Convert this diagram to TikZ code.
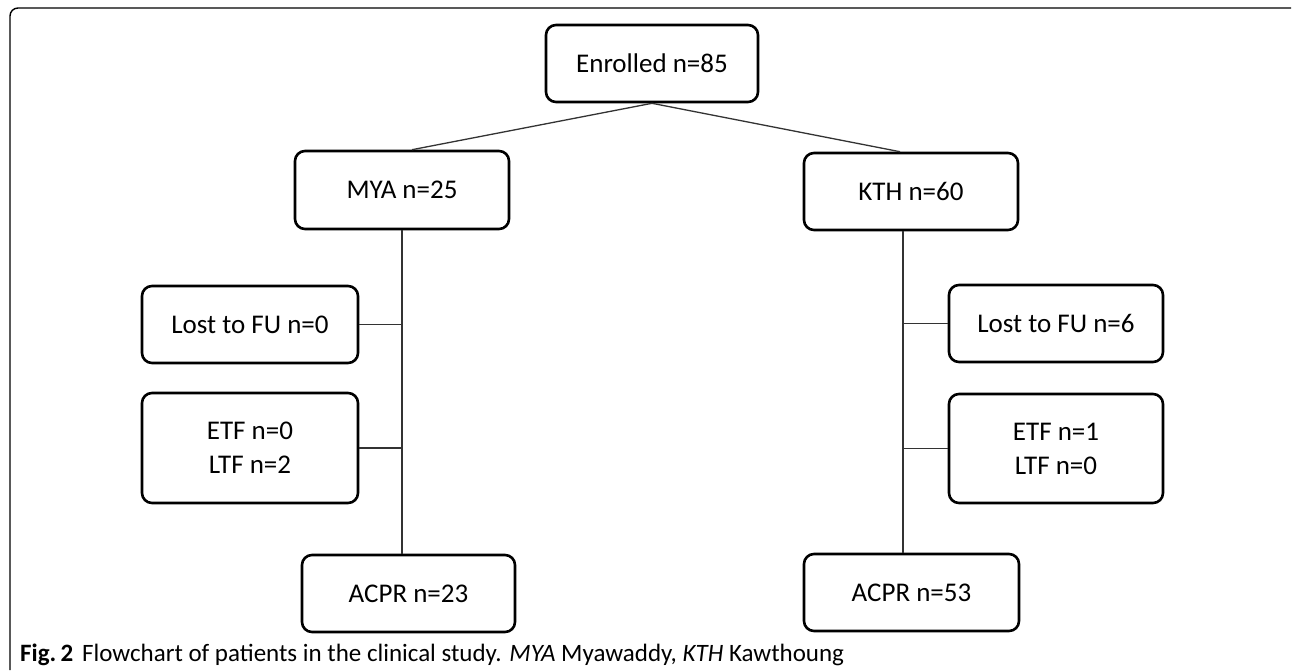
\documentclass[tikz,border=0pt]{standalone}
\usepackage{fontspec}
\setmainfont{Carlito}
\begin{document}
\begin{tikzpicture}[x=1pt,y=-1pt,
  box/.style={draw=black,line width=2.6pt,rounded corners=10pt,fill=white,align=center,
    font=\fontsize{27}{34}\selectfont,inner sep=0pt},
  conn/.style={draw=black!80,line width=1.3pt}]
\useasboundingbox (0,0) rectangle (1292,670);
\draw[line width=1.4pt,rounded corners=8pt] (10,670) -- (10,8) -- (1291,8);
\node[box,minimum width=212pt,minimum height=77pt] (en) at (652,63.5) {Enrolled n=85};
\node[box,minimum width=214pt,minimum height=78pt] (mya) at (402,190) {MYA n=25};
\node[box,minimum width=214pt,minimum height=77pt] (kth) at (911,191.5) {KTH n=60};
\node[box,minimum width=216pt,minimum height=77pt] (l0) at (250,324.5) {Lost to FU n=0};
\node[box,minimum width=216pt,minimum height=110pt] (e0) at (250,448) {ETF n=0\\LTF n=2};
\node[box,minimum width=213pt,minimum height=77pt] (a23) at (408.5,593.5) {ACPR n=23};
\node[box,minimum width=214pt,minimum height=77pt] (l6) at (1056,323.5) {Lost to FU n=6};
\node[box,minimum width=214pt,minimum height=109pt] (e1) at (1056,448.5) {ETF n=1\\LTF n=0};
\node[box,minimum width=215pt,minimum height=77pt] (a53) at (911.5,592.5) {ACPR n=53};
\coordinate (lv) at (mya.south);
\coordinate (rv) at ([xshift=-8pt]kth.south);
\draw[conn] (en.south) -- ([xshift=10pt]mya.north);
\draw[conn] (en.south) -- ([xshift=-11pt]kth.north);
\draw[conn] (lv) -- (lv |- a23.north);
\draw[conn] (rv) -- (rv |- a53.north);
\draw[conn] (l0.east) -- (l0.east -| lv);
\draw[conn] (e0.east) -- (e0.east -| lv);
\draw[conn] (l6.west) -- (l6.west -| rv);
\draw[conn] (e1.west) -- (e1.west -| rv);
\node[anchor=base west,inner sep=0pt,font=\fontsize{25}{28}\selectfont] (cap) at (20,661)
  {\textbf{Fig.\,2}\hspace{9pt}Flowchart of patients in the clinical study. \textit{MYA} Myawaddy, \textit{KTH} Kawthoung};
\end{tikzpicture}
\end{document}
